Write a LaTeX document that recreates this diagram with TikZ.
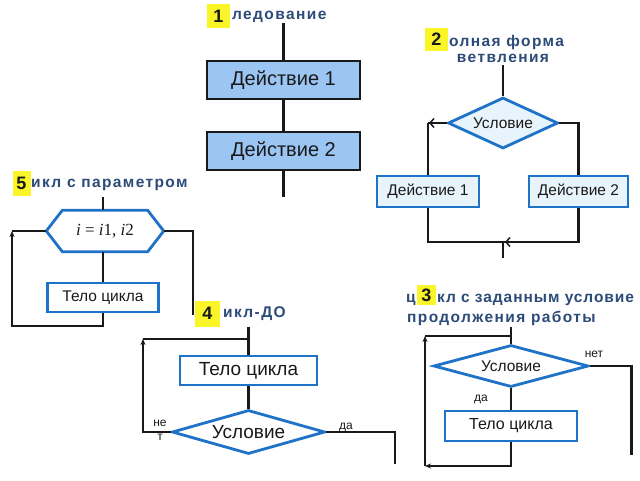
\documentclass[tikz,border=0pt]{standalone}
\usepackage{fontspec}
\setmainfont{Liberation Sans}
\newfontfamily\seriffont{Liberation Serif}
\newfontfamily\headfont[LetterSpace=9]{Liberation Sans}
\newfontfamily\headtight[LetterSpace=6]{Liberation Sans}
\usetikzlibrary{arrows.meta,shapes.geometric}
\definecolor{blueline}{RGB}{30,115,200}
\definecolor{fillA}{RGB}{155,197,243}
\definecolor{fillB}{RGB}{232,244,252}
\definecolor{headcol}{RGB}{45,75,120}
\definecolor{numyellow}{RGB}{250,245,40}
\definecolor{ink}{RGB}{25,25,25}
\begin{document}
\begin{tikzpicture}[x=1pt,y=-1pt,
  conn/.style={draw=ink, line width=2.2pt},
  tip/.style={-{Stealth[length=6pt,width=5pt]}},
  chev/.style={-{Straight Barb[length=4pt,width=9pt,line width=1.5pt]}},
  boxA/.style={draw=ink, line width=2.8pt, fill=fillA, inner sep=0pt, text=ink, font=\fontsize{20}{23}\selectfont},
  boxB/.style={draw=blueline, line width=2.8pt, fill=fillB, inner sep=0pt, text=ink, font=\fontsize{15.5}{18}\selectfont},
  boxW/.style={draw=blueline, line width=2.8pt, fill=white, inner sep=0pt, text=ink},
  diaB/.style={diamond, draw=blueline, line width=2.8pt, inner sep=0pt, text=ink},
  numbox/.style={fill=numyellow, inner sep=0pt, text=ink, font=\fontsize{18}{20}\selectfont\bfseries},
  head/.style={anchor=west, inner sep=0pt, text=headcol, font=\fontsize{15.5}{18}\headfont\bfseries},
  small/.style={inner sep=0pt, text=ink, font=\fontsize{12}{14}\selectfont}
]
\useasboundingbox (0,0) rectangle (640,480);
\fill[white] (0,0) rectangle (640,480);

% ---------- Section 1 ----------
\node[head] (h1) at (232,17) {ледование};
\node[numbox, minimum width=23pt, minimum height=24pt] (n1) at (218.5,16) {1};
\coordinate (t1) at (283.5,23);
\node[boxA, minimum width=153pt, minimum height=38pt] (a1) at (283.5,80) {Действие 1};
\node[boxA, minimum width=153pt, minimum height=38pt] (a2) at (283.5,151) {Действие 2};
\coordinate (b1) at (283.5,197);
\draw[conn] (t1) -- (a1.north);
\draw[conn] (a1.south) -- (a2.north);
\draw[conn] (a2.south) -- (b1);

% ---------- Section 2 ----------
\node[head] (h2a) at (449,42) {олная форма};
\node[head, anchor=center] (h2b) at (503,58) {ветвления};
\node[numbox, minimum width=23pt, minimum height=23pt] (n2) at (436.5,39.5) {2};
\coordinate (t2) at (503,65);
\node[diaB, fill=fillB, aspect=2.15, minimum width=110pt, minimum height=51pt, font=\fontsize{15.5}{18}\selectfont] (c2) at (503,123) {Условие};
\node[boxB, minimum width=102pt, minimum height=31pt] (l2) at (428,191.5) {Действие 1};
\node[boxB, minimum width=99pt, minimum height=31pt] (r2) at (578.5,191.5) {Действие 2};
\coordinate (cl2) at (428,123);
\coordinate (cr2) at (578.5,123);
\coordinate (ml2) at (428,242);
\coordinate (mr2) at (578.5,242);
\coordinate (ma2) at (505,242);
\coordinate (b2) at (503,258);
\draw[conn] (t2) -- (c2.north);
\draw[conn] (c2.west) -- (cl2);
\draw[conn, chev] (c2.west) -- ([xshift=1pt]cl2);
\draw[conn] (cl2) -- (l2.north);
\draw[conn] (c2.east) -- (cr2) -- (r2.north);
\draw[conn] (l2.south) -- (ml2) -- (mr2) -- (r2.south);
\draw[conn, chev] (mr2) -- (ma2);
\draw[conn] (503,242) -- (b2);

% ---------- Section 5 ----------
\node[head] (h5) at (31,185) {икл с параметром};
\node[numbox, minimum width=18pt, minimum height=25pt] (n5) at (21.5,183.5) {5};
\coordinate (t5) at (103,197);
\node[inner sep=0pt, minimum width=117pt, minimum height=41pt, text=ink, font=\fontsize{17}{20}\seriffont] (hx) at (105,231) {\textit{i} = \textit{i}1, \textit{i}2};
\draw[draw=blueline, line width=2.8pt, line join=miter]
  (hx.west) -- ([xshift=16pt]hx.north west) -- ([xshift=-16pt]hx.north east) -- (hx.east)
  -- ([xshift=-16pt]hx.south east) -- ([xshift=16pt]hx.south west) -- cycle;
\node[boxW, minimum width=111pt, minimum height=29pt, font=\fontsize{15.5}{18}\selectfont] (body5) at (103,297.5) {Тело цикла};
\coordinate (bl5) at (12,326);
\coordinate (tl5) at (12,231);
\coordinate (cr5) at (193,231);
\coordinate (br5) at (193,315);
\draw[conn] (t5) -- (t5 |- hx.north);
\draw[conn] (body5.north |- hx.south) -- (body5.north);
\draw[conn, tip] (body5.south) |- (bl5) -- (tl5);
\draw[conn] (tl5) -- (hx.west);
\draw[conn] (hx.east) -- (cr5) -- (br5);

% ---------- Section 4 ----------
\node[head] (h4) at (223,314) {икл-ДО};
\node[numbox, minimum width=25pt, minimum height=26pt] (n4) at (207.5,313.5) {4};
\coordinate (t4) at (248.5,327);
\coordinate (j4) at (248.5,339);
\coordinate (tl4) at (143,339);
\coordinate (bl4) at (143,432);
\node[boxW, minimum width=137pt, minimum height=29pt, font=\fontsize{19}{22}\selectfont] (body4) at (248.5,370.5) {Тело цикла};
\node[diaB, fill=white, aspect=3.5, minimum width=153pt, minimum height=44pt, font=\fontsize{19}{22}\selectfont] (c4) at (248.5,432) {Условие};
\coordinate (cr4) at (395,432);
\coordinate (br4) at (395,464);
\draw[conn] (t4) -- (body4.north);
\draw[conn] (body4.south) -- (c4.north);
\draw[conn, tip] (c4.west) -- (bl4) -- (tl4);
\draw[conn] (tl4) -- (j4);
\draw[conn] (c4.east) -- (cr4) -- (br4);
\node[small] (ne4) at (160,423) {не};
\node[small] (te4) at (160,437) {т};
\node[small] (da4) at (346,427) {да};

% ---------- Section 3 ----------
\node[head] (h3a) at (406,300) {ц};
\node[head, font=\fontsize{15.5}{18}\headtight\bfseries] (h3b) at (437,300) {кл с заданным условие};
\node[head] (h3c) at (407,318) {продолжения работы};
\node[numbox, minimum width=19pt, minimum height=20pt] (n3) at (426.5,295) {3};
\coordinate (t3) at (511,327);
\coordinate (j3) at (511,336);
\coordinate (tl3) at (425,336);
\coordinate (bl3) at (425,466);
\node[diaB, fill=white, aspect=3.7, minimum width=155pt, minimum height=42pt, font=\fontsize{15.5}{18}\selectfont] (c3) at (511,366) {Условие};
\node[boxW, minimum width=132pt, minimum height=30pt, font=\fontsize{16}{19}\selectfont] (body3) at (511,426) {Тело цикла};
\coordinate (cr3) at (631.5,366);
\coordinate (br3) at (631.5,455);
\draw[conn] (t3) -- (c3.north);
\draw[conn] (c3.south) -- (body3.north);
\draw[conn, tip] (body3.south) |- (bl3);
\draw[conn, tip] (bl3) -- (tl3);
\draw[conn] (tl3) -- (j3);
\draw[conn] (c3.east) -- (cr3) -- (br3);
\node[small] (net3) at (594,354) {нет};
\node[small] (da3) at (481,399) {да};
\end{tikzpicture}
\end{document}
